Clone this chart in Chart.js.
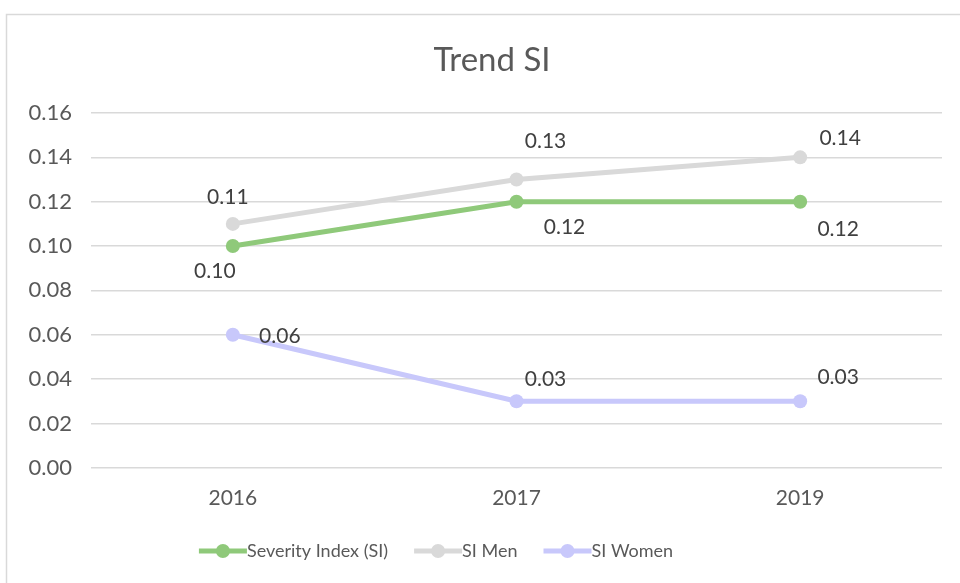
<!DOCTYPE html>
<html><head><meta charset="utf-8">
<script src="https://cdn.jsdelivr.net/npm/chart.js@4/dist/chart.umd.min.js"></script>
<style>html,body{margin:0;padding:0;background:#fff}canvas{display:block}</style>
</head><body>
<canvas id="c" width="960" height="583"></canvas>
<script>
const categories = ["2016", "2017", "2019"];
const severityIndex = [0.10, 0.12, 0.12];
const siMen = [0.11, 0.13, 0.14];
const siWomen = [0.06, 0.03, 0.03];
const seriesNames = ["Severity Index (SI)", "SI Men", "SI Women"];
const titleText = "Trend SI";

const FONT = "Lato, 'Open Sans', sans-serif";
const colors = ["#8fc97a", "#d9d9d9", "#c8c8fb"];
// label offsets (px) relative to each point
const labelOffsets = [
  [[-18, 25], [48, 26], [38, 28]],
  [[-5, -27], [29, -38], [40, -19]],
  [[47, 1], [29, -22], [38, -24]]
];

const framePlugin = {
  id: 'frame',
  beforeDraw(chart) {
    const ctx = chart.ctx;
    ctx.save();
    ctx.fillStyle = '#fff';
    ctx.fillRect(0, 0, chart.width, chart.height);
    ctx.strokeStyle = '#d9d9d9';
    ctx.lineWidth = 1.5;
    ctx.strokeRect(6.5, 14.5, chart.width + 20, chart.height + 20);
    ctx.fillStyle = '#595959';
    ctx.font = "33px " + FONT;
    ctx.textAlign = 'center';
    ctx.textBaseline = 'middle';
    ctx.fillText(titleText, 492, 60);
    ctx.restore();
  },
  afterDatasetsDraw(chart) {
    const ctx = chart.ctx;
    ctx.save();
    ctx.font = "21px " + FONT;
    ctx.fillStyle = '#404040';
    ctx.textAlign = 'center';
    ctx.textBaseline = 'middle';
    chart.data.datasets.forEach((ds, di) => {
      const meta = chart.getDatasetMeta(di);
      meta.data.forEach((pt, i) => {
        const off = labelOffsets[di][i];
        ctx.fillText(ds.data[i].toFixed(2), pt.x + off[0], pt.y + off[1]);
      });
    });
    // legend
    ctx.font = "18px " + FONT;
    ctx.textAlign = 'left';
    const lineW = 48, gap = 0, spacing = 26;
    const widths = seriesNames.map(n => lineW + gap + ctx.measureText(n).width);
    const total = widths.reduce((a, b) => a + b, 0) + spacing * (seriesNames.length - 1);
    let x = 436 - total / 2;
    const y = 551;
    seriesNames.forEach((n, i) => {
      ctx.strokeStyle = colors[i];
      ctx.lineWidth = 5;
      ctx.beginPath();
      ctx.moveTo(x, y); ctx.lineTo(x + lineW, y);
      ctx.stroke();
      ctx.fillStyle = colors[i];
      ctx.beginPath();
      ctx.arc(x + lineW / 2, y, 7, 0, Math.PI * 2);
      ctx.fill();
      ctx.fillStyle = '#595959';
      ctx.fillText(n, x + lineW + gap, y);
      x += widths[i] + spacing;
    });
    ctx.restore();
  }
};

new Chart(document.getElementById('c'), {
  type: 'line',
  data: {
    labels: categories,
    datasets: [severityIndex, siMen, siWomen].map((d, i) => ({
      label: seriesNames[i],
      data: d,
      borderColor: colors[i],
      backgroundColor: colors[i],
      borderWidth: 5,
      pointRadius: 7,
      pointBorderWidth: 0,
      pointBackgroundColor: colors[i],
      tension: 0,
      order: 3 - i
    }))
  },
  options: {
    responsive: false,
    animation: false,
    devicePixelRatio: 1,
    layout: { padding: { left: 0, right: 18, top: 113, bottom: 54 } },
    plugins: { legend: { display: false }, title: { display: false }, tooltip: { enabled: false } },
    scales: {
      x: {
        offset: true,
        grid: { display: false, drawTicks: false },
        border: { display: false },
        ticks: { color: '#595959', font: { family: FONT, size: 21 }, padding: 18 }
      },
      y: {
        min: 0, max: 0.16,
        afterFit(scale) { scale.width = 91; },
        grid: { color: '#d9d9d9', lineWidth: 1.5, drawTicks: false },
        border: { display: false },
        ticks: {
          stepSize: 0.02, padding: 19, color: '#595959',
          font: { family: FONT, size: 22 },
          callback: v => v.toFixed(2)
        }
      }
    }
  },
  plugins: [framePlugin]
});
</script>
</body></html>
